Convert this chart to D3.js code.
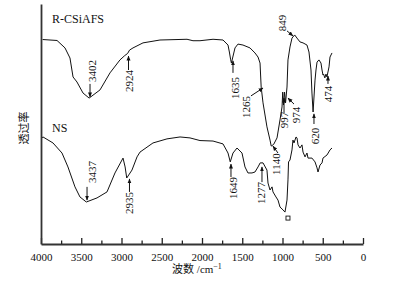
<!DOCTYPE html>
<html><head><meta charset="utf-8">
<script src="https://cdn.jsdelivr.net/npm/d3@7"></script>
<style>
body{margin:0;background:#fff;}
svg text{font-family:"Liberation Serif","Times New Roman","Noto Sans CJK SC",serif;fill:#111;}
</style></head>
<body><svg id="c" width="395" height="282"></svg>
<script>
// Wavenumber (cm^-1) and transmittance (a.u.)
const rcsiWave = [3980,3801,3702,3640,3602,3553,3478,3402,3267,3143,3019,2960,2924,2900,2857,2733,2522,2186,2112,2025,1863,1739,1677,1660,1645,1635,1590,1553,1491,1404,1342,1304,1279,1265,1242,1193,1155,1140,1110,1068,1031,1006,997,988,974,962,944,932,907,882,849,820,783,745,696,671,646,634,620,596,584,571,547,522,509,497,490,474,460,448,422,410,385];
const rcsiT    = [85.2,84.8,81.7,77.5,69.6,67.5,62.9,60.8,64.2,71.3,76.7,78.5,79.4,80.8,81.7,83.8,85.0,85.3,84.7,84.7,85.3,85.0,82.9,80.0,77.0,75.4,81.7,83.3,82.9,81.7,79.6,77.9,75.4,65.4,58.8,48.8,43.3,40.8,41.5,44.2,51.7,57.1,63.3,57.9,63.3,58.8,65.4,76.7,82.1,85.8,87.1,85.8,84.2,83.8,82.9,80.0,72.5,62.9,55.0,68.3,72.5,75.8,76.7,75.4,72.5,70.4,70.8,69.2,70.8,69.6,73.8,77.9,79.6];
const nsWave = [3990,3975,3851,3739,3665,3578,3516,3437,3304,3180,3081,2981,2955,2935,2870,2807,2770,2609,2435,2273,2149,2025,1863,1739,1677,1649,1615,1565,1503,1466,1429,1379,1342,1304,1277,1242,1193,1180,1155,1130,1118,1081,1056,1031,994,969,944,932,925,907,882,870,857,832,820,807,783,758,745,720,696,683,634,596,571,559,534,509,497,447,410,385];
const nsT    = [44.2,44.6,42.1,37.9,32.1,23.8,19.6,17.5,19.2,21.7,29.6,35.8,32.1,27.5,30.8,36.3,38.3,42.1,43.8,44.6,44.2,43.1,42.9,41.7,37.9,34.2,37.9,40.0,37.9,32.1,29.6,29.6,30.0,32.1,33.8,33.8,30.8,25.4,22.5,23.8,21.7,19.6,18.3,15.4,14.2,13.3,18.3,26.7,34.2,35.0,39.2,43.3,42.1,44.6,44.2,41.3,40.0,41.3,38.3,36.3,37.9,35.8,35.8,34.2,31.7,30.0,32.9,33.8,35.8,37.1,39.2,40.0];
const seriesNames = ["R-CSiAFS","NS"];
const xTicks = [4000,3500,3000,2500,2000,1500,1000,500,0];
const xMinorTicks = [3750,3250,2750,2250,1750,1250,750,250];
// peak annotations: label, label centre (wave, T), arrow tail and head (wave, T)
const peakLabels = ["3402","2924","1635","1265","1140","997","974","849","620","474","3437","2935","1649","1277"];
const peakLabelW = [3366,2901,1596,1448,1078,987,827,1005,596,435,3366,2901,1621,1267];
const peakLabelT = [72.1,67.9,65.0,57.1,33.3,51.7,53.8,92.1,45.0,62.5,30.0,17.1,23.3,21.3];
const arrowW1 = [3391,2913,1615,1392,1056,981,857,944,609,435,3428,2901,1640,1255];
const arrowT1 = [66.7,72.5,71.3,61.7,37.9,54.6,58.3,88.8,50.0,66.7,23.8,21.7,27.9,25.8];
const arrowW2 = [3391,2913,1615,1242,1118,981,932,870,609,435,3428,2901,1640,1255];
const arrowT2 = [61.3,78.3,76.3,65.0,40.8,60.8,60.8,86.7,54.2,70.0,18.3,27.1,33.3,32.1];
const markerW = [932], markerT = [10.8];

const svg = d3.select("#c");
const x = d3.scaleLinear().domain([4000,0]).range([41,363]);
const y = d3.scaleLinear().domain([0,100]).range([244,4]);

svg.append("defs").append("marker").attr("id","ah").attr("viewBox","0 0 10 10")
  .attr("refX",9).attr("refY",5).attr("markerWidth",5).attr("markerHeight",5)
  .attr("orient","auto").append("path").attr("d","M0,1 L10,5 L0,9 Z").attr("fill","#111");

const line = d3.line().x(d=>x(d[0])).y(d=>y(d[1]));
[[rcsiWave,rcsiT],[nsWave,nsT]].forEach(([w,t])=>{
  svg.append("path").datum(w.map((v,i)=>[v,t[i]])).attr("d",line)
    .attr("fill","none").attr("stroke","#111").attr("stroke-width",1).attr("stroke-linejoin","round");
});

// axes
const gx = svg.append("g").attr("transform","translate(0,244)")
  .call(d3.axisBottom(x).tickValues(xTicks).tickSizeInner(-6).tickSizeOuter(0).tickPadding(9).tickFormat(d3.format("d")));
gx.append("g").call(d3.axisBottom(x).tickValues(xMinorTicks).tickSizeInner(-3.5).tickSizeOuter(0).tickFormat(""))
  .select(".domain").remove();
gx.selectAll("text").attr("font-size",11).attr("fill","#111").style("font-family","Liberation Serif");
gx.selectAll("line").attr("stroke","#222").attr("stroke-width",1.3);
gx.select(".domain").attr("stroke","#333").attr("stroke-width",1.8);
const gy = svg.append("g").attr("transform","translate(41,0)")
  .call(d3.axisLeft(y).tickValues([]).tickSizeOuter(0));
gy.select(".domain").attr("stroke","#333").attr("stroke-width",1.8);

// axis titles
const xt = svg.append("text").attr("x",197).attr("y",273).attr("text-anchor","middle").attr("font-size",11);
xt.append("tspan").text("波数 /cm").style("font-family","Liberation Serif, Noto Sans CJK SC");
xt.append("tspan").text("−1").attr("dy",-4).attr("font-size",8);
svg.append("text").attr("transform","translate(28,128) rotate(-90)").attr("text-anchor","middle")
  .attr("font-size",11).style("font-family","Noto Sans CJK SC").text("透过率");

// series names
svg.append("text").attr("x",52).attr("y",23).attr("font-size",12).text(seriesNames[0]);
svg.append("text").attr("x",52).attr("y",132).attr("font-size",12).text(seriesNames[1]);

// annotations
peakLabels.forEach((lab,i)=>{
  svg.append("line").attr("x1",x(arrowW1[i])).attr("y1",y(arrowT1[i]))
    .attr("x2",x(arrowW2[i])).attr("y2",y(arrowT2[i]))
    .attr("stroke","#111").attr("stroke-width",1).attr("marker-end","url(#ah)");
  svg.append("text").attr("transform",`translate(${x(peakLabelW[i])},${y(peakLabelT[i])}) rotate(-90)`)
    .attr("text-anchor","middle").attr("dominant-baseline","central").attr("font-size",11).text(lab);
});
markerW.forEach((w,i)=>{
  svg.append("rect").attr("x",x(w)-2).attr("y",y(markerT[i])-2).attr("width",4).attr("height",4)
    .attr("fill","#fff").attr("stroke","#111").attr("stroke-width",0.9);
});
</script></body></html>
